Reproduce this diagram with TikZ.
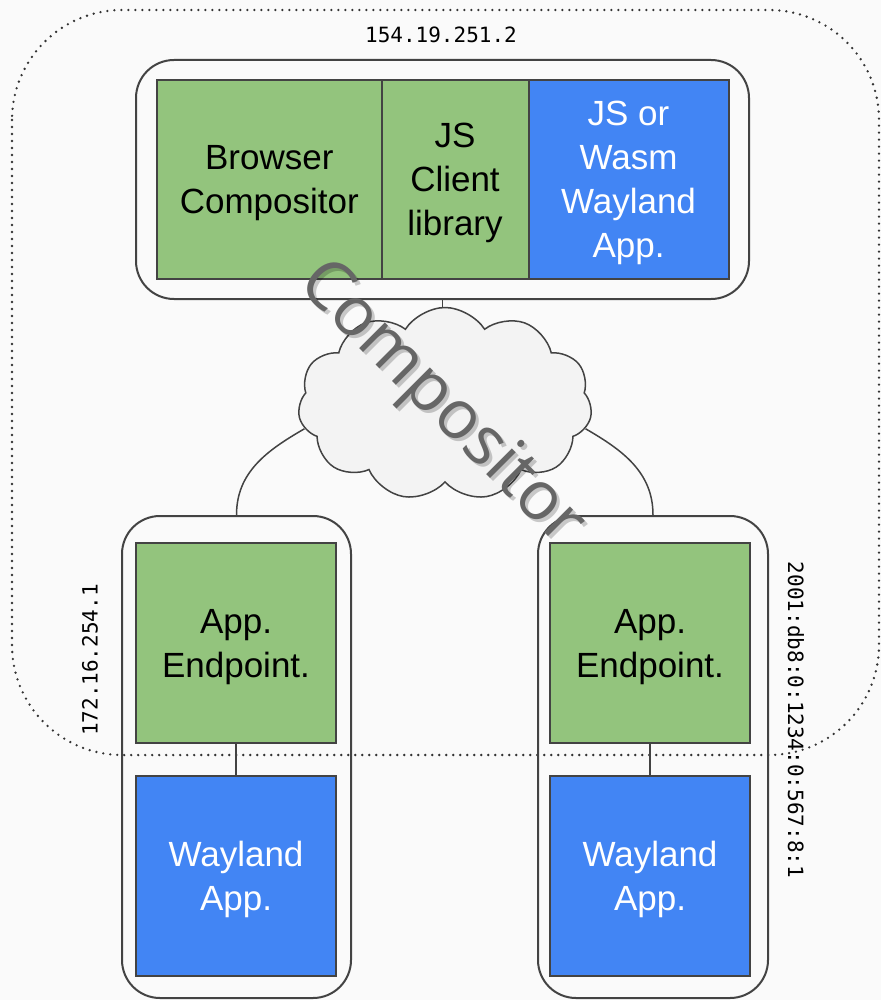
\documentclass[tikz,border=0pt]{standalone}
\usepackage{fontspec}
\setmainfont{Liberation Sans}
\newfontfamily\addrfont{DejaVu Sans Mono}
\newfontfamily\tagfont{Open Sans}
\usetikzlibrary{shapes.symbols}
\definecolor{bgpaper}{HTML}{FAFAFA}
\definecolor{edge}{HTML}{434343}
\definecolor{appgreen}{HTML}{93C47D}
\definecolor{appblue}{HTML}{4285F4}
\definecolor{cloudfill}{HTML}{F3F3F3}
\definecolor{tagtext}{HTML}{666666}
\pgfdeclarelayer{paperlayer}
\pgfdeclarelayer{wires}
\pgfsetlayers{paperlayer,wires,main}
\tikzset{
  holder/.style={draw=edge, line width=2pt, rounded corners=38pt, inner sep=0pt},
  greenbox/.style={draw=edge, line width=2pt, fill=appgreen, inner sep=0pt,
    align=center, text depth=-7pt, font=\fontsize{35}{44}\selectfont},
  bluebox/.style={greenbox, fill=appblue, text=white},
  wire/.style={draw=edge, line width=1.5pt},
  addr/.style={font=\addrfont\fontsize{21}{25}\selectfont},
  zone/.style={draw=black!80, line width=2.6pt, dash pattern=on 0pt off 7pt,
    line cap=round, rounded corners=110pt},
  tag/.style={rotate=-45, font=\tagfont\fontsize{68}{68}\selectfont},
}
\begin{document}
\begin{tikzpicture}[x=1pt, y=1pt]
  \begin{pgfonlayer}{paperlayer}
    \fill[bgpaper] (0,0) rectangle (881,-1000);
  \end{pgfonlayer}

  % dotted compositor zone
  \draw[zone] (12,-10) rectangle (879,-755);
  \node[addr] (ipweb) at (441,-35) {154.19.251.2};

  % browser side
  \node[holder, minimum width=613pt, minimum height=239pt] (top) at (442.5,-179.5) {};
  \node[greenbox, minimum width=224.5pt, minimum height=199pt] (browser) at (269.25,-179.6) {Browser\\Compositor};
  \node[greenbox, minimum width=147pt, minimum height=199pt] (jslib) at (455,-179.6) {JS\\Client\\library};
  \node[bluebox, minimum width=200pt, minimum height=199pt] (wasm) at (628.5,-179.6) {JS or\\Wasm\\Wayland\\App.};

  % network
  \node[cloud, cloud puffs=11, cloud puff arc=115, draw=edge, line width=1.5pt,
    fill=cloudfill, minimum width=294pt, minimum height=193pt, inner sep=0pt] (cloud) at (445,-404) {};

  % remote machines
  \node[holder, minimum width=229pt, minimum height=482pt] (lphone) at (236.5,-757) {};
  \node[holder, minimum width=230pt, minimum height=482pt] (rphone) at (653,-757) {};
  \node[greenbox, minimum size=200pt] (lend) at (236,-643) {App.\\Endpoint.};
  \node[bluebox, minimum size=200pt] (lapp) at (236,-875.5) {Wayland\\App.};
  \node[greenbox, minimum size=200pt] (rend) at (650,-643) {App.\\Endpoint.};
  \node[bluebox, minimum size=200pt] (rapp) at (650,-875.5) {Wayland\\App.};
  \node[addr, rotate=90] (ipleft) at (90,-660) {172.16.254.1};
  \node[addr, rotate=-90] (ipright) at (796,-720) {2001:db8:0:1234:0:567:8:1};

  \begin{pgfonlayer}{wires}
    \draw[wire] (top.south) -- (top.south |- cloud.center);
    \draw[wire] (cloud.190) to[out=210, in=90] (lphone.north);
    \draw[wire] (cloud.-10) to[out=-30, in=90] (rphone.north);
  \end{pgfonlayer}
  \draw[wire] (lend) -- (lapp);
  \draw[wire] (rend) -- (rapp);

  % watermark
  \node[tag, text=black, opacity=0.2] (tagshade) at (443,-408) {Compositor};
  \node[tag, text=tagtext] (tagword) at (440,-405) {Compositor};
\end{tikzpicture}
\end{document}
